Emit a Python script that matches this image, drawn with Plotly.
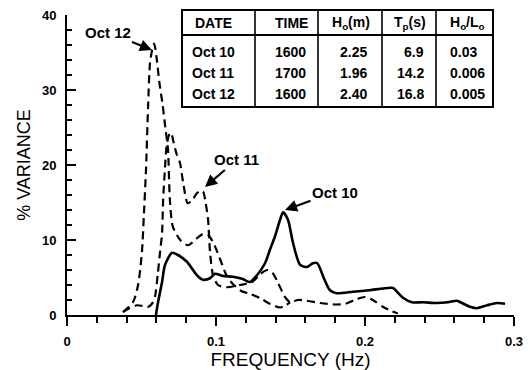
import plotly.graph_objects as go

# ---------------- data ----------------
oct10_f = [0.0597, 0.0611, 0.0638, 0.0658, 0.0705, 0.0745, 0.0805, 0.0872, 0.0913,
           0.0960, 0.0993, 0.1047, 0.1114, 0.1180, 0.1228, 0.1275, 0.1329, 0.1362,
           0.1396, 0.1430, 0.1450, 0.1483, 0.1517, 0.1564, 0.1610, 0.1650, 0.1680,
           0.1720, 0.1765, 0.1810, 0.1920, 0.2030, 0.2188, 0.2215, 0.2255, 0.2315,
           0.2390, 0.2480, 0.2557, 0.2617, 0.2650, 0.2705, 0.2750, 0.2820, 0.2886,
           0.2940]
oct10_v = [0.0, 1.7, 4.4, 6.7, 8.3, 8.0, 7.1, 5.3, 4.7,
           4.9, 5.5, 5.2, 5.1, 4.8, 4.4, 5.3, 6.9, 8.7,
           10.5, 12.7, 13.7, 12.7, 9.6, 6.7, 6.4, 6.9, 6.9,
           5.1, 3.3, 2.9, 3.1, 3.3, 3.6, 3.1, 2.3, 1.7,
           1.7, 1.6, 1.7, 1.9, 1.6, 1.1, 0.9, 1.3, 1.6,
           1.5]

oct11_f = [0.0376, 0.0420, 0.0470, 0.0510, 0.0545, 0.0570, 0.0590, 0.0610, 0.0625,
           0.0638, 0.0645, 0.0658, 0.0668, 0.0685, 0.0700, 0.0712, 0.0735, 0.0758,
           0.0780, 0.0810, 0.0840, 0.0870, 0.0900, 0.0915, 0.0930, 0.0946, 0.0960,
           0.0980, 0.1013, 0.1074, 0.1161, 0.1242, 0.1300, 0.1345, 0.1380, 0.1416,
           0.1463, 0.1497, 0.1550, 0.1610, 0.1700, 0.1800, 0.1870, 0.1930, 0.2000,
           0.2060, 0.2120, 0.2180, 0.2220]
oct11_v = [0.4, 0.9, 1.3, 1.2, 1.1, 1.5, 2.4, 5.6, 8.5,
           10.9, 15.3, 19.7, 22.5, 24.0, 24.3, 23.3, 21.5, 20.3,
           17.6, 14.9, 15.3, 16.2, 16.6, 16.4, 15.0, 12.9, 8.4,
           5.3, 4.0, 3.7, 4.0, 4.4, 5.5, 6.0, 5.6, 4.3,
           2.4, 1.7, 2.0, 1.9, 1.6, 1.4, 1.5, 2.0, 2.4,
           1.9, 1.1, 0.5, 0.2]

oct12_f = [0.0376, 0.0443, 0.0477, 0.0503, 0.0515, 0.0530, 0.0544, 0.0557, 0.0571,
           0.0585, 0.0600, 0.0620, 0.0640, 0.0660, 0.0678, 0.0690, 0.0710, 0.0760,
           0.0812, 0.0870, 0.0913, 0.0950, 0.0990, 0.1030, 0.1070, 0.1110, 0.1170,
           0.1230, 0.1300, 0.1360, 0.1430, 0.1470, 0.1497]
oct12_v = [0.4, 1.7, 4.0, 8.4, 13.0, 19.3, 27.7, 33.6, 35.3,
           36.2, 34.5, 31.0, 28.3, 25.0, 22.0, 15.5, 11.8, 10.0,
           9.3, 10.2, 10.8, 10.6, 9.3, 7.3, 5.3, 4.2, 3.2,
           2.8, 2.2, 1.5, 1.0, 1.3, 1.7]

x_tickvals = [0, 0.1, 0.2, 0.3]
x_ticktext = ["0", "0.1", "0.2", "0.3"]
y_tickvals = [0, 10, 20, 30, 40]

table_header = ["DATE", "TIME", "H<sub>o</sub>(m)", "T<sub>p</sub>(s)", "H<sub>o</sub>/L<sub>o</sub>"]
table_dates = ["Oct 10", "Oct 11", "Oct 12"]
table_times = ["1600", "1700", "1600"]
table_ho = ["2.25", "1.96", "2.40"]
table_tp = ["6.9", "14.2", "16.8"]
table_steep = ["0.03", "0.006", "0.005"]

# ---------------- layout geometry ----------------
W, H = 530, 370
ML, MR, MT, MB = 67, 16, 15, 55
PW, PH = W - ML - MR, H - MT - MB


def pxx(px):
    return (px - ML) / PW


def pyy(py):
    return (H - MB - py) / PH


FONT = "Liberation Sans, Arial, Helvetica, sans-serif"

fig = go.Figure()
dash_style = "8px,5px"
fig.add_trace(go.Scatter(x=oct10_f, y=oct10_v, mode="lines", name="Oct 10",
                         line=dict(color="black", width=2.6, shape="spline", smoothing=0.7)))
fig.add_trace(go.Scatter(x=oct11_f, y=oct11_v, mode="lines", name="Oct 11",
                         line=dict(color="black", width=2.2, dash=dash_style, shape="spline", smoothing=0.7)))
fig.add_trace(go.Scatter(x=oct12_f, y=oct12_v, mode="lines", name="Oct 12",
                         line=dict(color="black", width=2.2, dash=dash_style, shape="spline", smoothing=0.7)))

annotations = []
# curve labels with arrows: (text, text-centre x, y, arrow-tip x, y)
labels = [("Oct 12", 0.0272, 37.73, 0.0570, 35.33),
          ("Oct 11", 0.1138, 20.67, 0.0926, 17.07),
          ("Oct 10", 0.1799, 16.40, 0.1463, 14.00)]
for txt, tx, ty, hx, hy in labels:
    annotations.append(dict(x=hx, y=hy, xref="x", yref="y", ax=tx, ay=ty, axref="x", ayref="y",
                            text=txt, showarrow=True, arrowhead=2, arrowsize=1.1, arrowwidth=2.2,
                            arrowcolor="black", borderpad=1,
                            font=dict(family=FONT, size=15, color="black", weight="bold")))

# table
shapes = []
tl, tr, tt, tb, th = 182, 493, 10, 107, 35
cols = [255, 318, 382, 436]
shapes.append(dict(type="rect", xref="paper", yref="paper", x0=pxx(tl), x1=pxx(tr),
                   y0=pyy(tb), y1=pyy(tt), line=dict(color="black", width=2), fillcolor="white",
                   layer="above"))
shapes.append(dict(type="line", xref="paper", yref="paper", x0=pxx(tl), x1=pxx(tr),
                   y0=pyy(th), y1=pyy(th), line=dict(color="black", width=2)))
for c in cols:
    shapes.append(dict(type="line", xref="paper", yref="paper", x0=pxx(c), x1=pxx(c),
                       y0=pyy(tb), y1=pyy(tt), line=dict(color="black", width=1.6)))

tfont = dict(family=FONT, size=14, color="black", weight="bold")
head_x = [213, 291, 351, 410, 467]
for hx, ht in zip(head_x, table_header):
    annotations.append(dict(x=pxx(hx), y=pyy(23), xref="paper", yref="paper", text=ht,
                            showarrow=False, font=tfont, xanchor="center", yanchor="middle"))
row_y = [52, 73, 94]
for i, ry in enumerate(row_y):
    annotations.append(dict(x=pxx(190), y=pyy(ry), xref="paper", yref="paper", text=table_dates[i],
                            showarrow=False, font=tfont, xanchor="left", yanchor="middle"))
    annotations.append(dict(x=pxx(290), y=pyy(ry), xref="paper", yref="paper", text=table_times[i],
                            showarrow=False, font=tfont, xanchor="center", yanchor="middle"))
    annotations.append(dict(x=pxx(369), y=pyy(ry), xref="paper", yref="paper", text=table_ho[i],
                            showarrow=False, font=tfont, xanchor="right", yanchor="middle"))
    annotations.append(dict(x=pxx(426), y=pyy(ry), xref="paper", yref="paper", text=table_tp[i],
                            showarrow=False, font=tfont, xanchor="right", yanchor="middle"))
    annotations.append(dict(x=pxx(448), y=pyy(ry), xref="paper", yref="paper", text=table_steep[i],
                            showarrow=False, font=tfont, xanchor="left", yanchor="middle"))

fig.update_layout(
    width=W, height=H,
    margin=dict(l=ML, r=MR, t=MT, b=MB, pad=0, autoexpand=False),
    paper_bgcolor="white", plot_bgcolor="white",
    showlegend=False,
    font=dict(family=FONT, color="black"),
    annotations=annotations,
    shapes=shapes,
)
fig.update_xaxes(
    range=[0, 0.3], showgrid=False, zeroline=False, automargin=False,
    showline=True, linecolor="black", linewidth=2,
    tickmode="array", tickvals=x_tickvals, ticktext=x_ticktext,
    ticks="outside", ticklen=9, tickwidth=2, tickcolor="black",
    minor=dict(dtick=0.02, tick0=0, ticks="outside", ticklen=6, tickwidth=2, tickcolor="black"),
    tickfont=dict(family=FONT, size=13, color="black", weight="bold"),
    ticklabelstandoff=4,
    title=dict(text="FREQUENCY (Hz)", font=dict(family=FONT, size=19, color="black"), standoff=9),
)
fig.update_yaxes(
    range=[0, 40], showgrid=False, zeroline=False, automargin=False,
    showline=True, linecolor="black", linewidth=2,
    tickmode="array", tickvals=y_tickvals,
    ticks="inside", ticklen=9, tickwidth=2, tickcolor="black",
    minor=dict(dtick=2, tick0=0, ticks="inside", ticklen=5, tickwidth=2, tickcolor="black"),
    tickfont=dict(family=FONT, size=13, color="black", weight="bold"),
    ticklabelstandoff=6,
    title=dict(text="% VARIANCE", font=dict(family=FONT, size=18, color="black"), standoff=7),
)

fig.write_html("out.html")
